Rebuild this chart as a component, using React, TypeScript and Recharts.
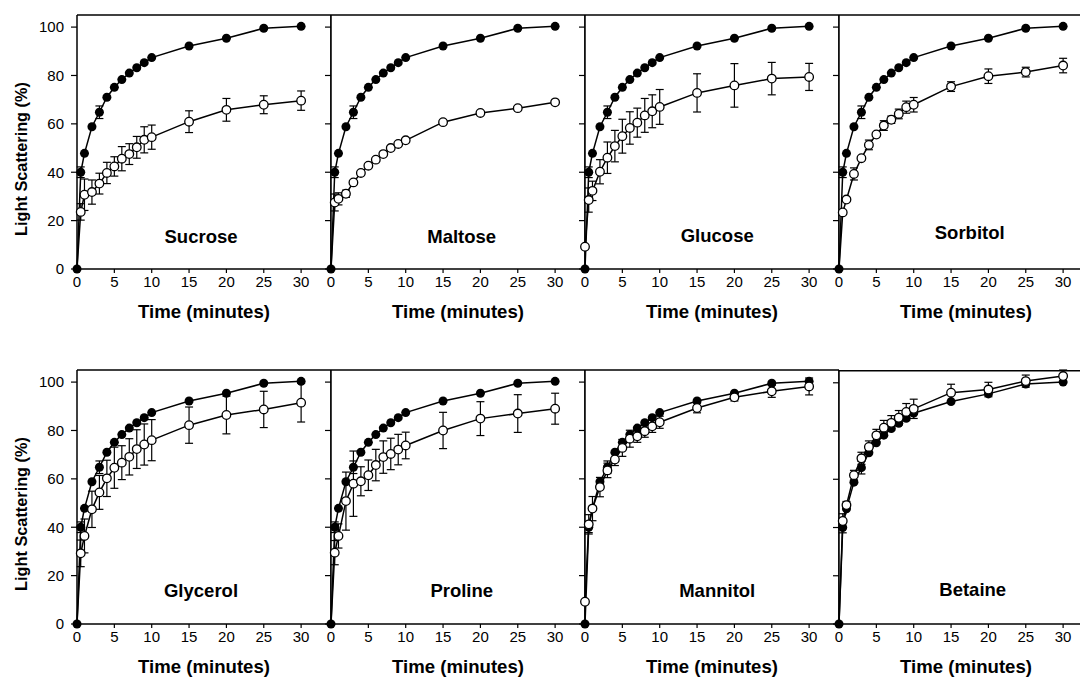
import React from 'react';
import {
  ComposedChart,
  Line,
  XAxis,
  YAxis,
  ErrorBar,
  ReferenceLine,
  ReferenceDot,
} from 'recharts';

// sampling times (minutes)
const times = [0, 0.5, 1, 2, 3, 4, 5, 6, 7, 8, 9, 10, 15, 20, 25, 30];

// control curve (filled circles), same in every panel
const control = [0, 40, 47.8, 58.8, 64.8, 71, 75.1, 78.3, 81, 83.2, 85.3, 87.4, 92.2, 95.4, 99.5, 100.3];
const controlErr = [0, 2.2, 0, 0, 2.6, 0, 0, 0, 0, 0, 0, 0, 0, 0, 0, 0];

// solute curves (open circles)
const sucrose = [0, 23.6, 30.7, 31.8, 35.3, 39.7, 42.4, 45.6, 47.5, 50.3, 53.4, 54.5, 60.9, 65.8, 67.9, 69.6];
const sucroseErr = [0, 3.4, 6.5, 5, 4.3, 4.4, 4, 5, 4.3, 4.5, 5.4, 5, 4.5, 4.7, 3.7, 4];
const maltose = [0, 27.5, 29, 31.1, 35.8, 39.7, 42.7, 45.2, 47.5, 50, 51.7, 53.2, 60.7, 64.5, 66.5, 68.9];
const maltoseErr = [0, 3.5, 2.5, 1.5, 0, 0, 0, 0, 0, 0, 0, 0, 0, 0, 0, 0];
const glucose = [9.2, 28.5, 32.3, 40.2, 46, 50.8, 54.9, 58.3, 60.5, 63.5, 65.2, 67, 72.8, 75.9, 78.7, 79.4];
const glucoseErr = [0, 5, 4, 5, 6.5, 6.5, 7, 6.7, 6, 7, 6.8, 7.2, 7.9, 9, 6.7, 5.6];
const sorbitol = [0, 23.4, 28.7, 39.3, 45.8, 51.3, 55.6, 59.3, 61.7, 64.1, 66.9, 67.9, 75.4, 79.7, 81.4, 84.1];
const sorbitolErr = [0, 0, 0, 2.5, 0, 2, 0, 2, 1.5, 2, 2.5, 3, 2, 3, 2, 3];
const glycerol = [0, 29.2, 36.4, 47.4, 54.4, 60.2, 64.6, 66.7, 69.1, 72.3, 74.2, 76, 82.2, 86.4, 88.7, 91.5];
const glycerolErr = [0, 5.5, 7, 7.5, 7, 7.5, 8.5, 7, 7.5, 8, 8.5, 8.5, 7.5, 7.8, 7.5, 8];
const proline = [0, 29.5, 36.4, 50.8, 58, 59, 61.5, 65.7, 69, 70.3, 72.1, 73.8, 80, 84.9, 87, 89];
const prolineErr = [0, 5, 5, 12, 13.5, 6, 6.3, 6.5, 6.7, 6.5, 6.3, 5.5, 7.5, 7, 7.8, 6.4];
const mannitol = [9.2, 41.2, 47.7, 56.6, 63.5, 68, 72.8, 76.6, 77.6, 79.7, 81.7, 83.4, 89.3, 93.7, 96.2, 98.2];
const mannitolErr = [0, 4, 5, 4, 3, 2.5, 3.5, 3.5, 2.5, 2.5, 2.5, 2.5, 2, 1.5, 2.5, 3.5];
const betaine = [0, 42.7, 49.3, 61.7, 68.7, 73.4, 78.2, 81.4, 83.4, 85.5, 87.9, 89.2, 95.9, 97.2, 100.7, 102.8];
const betaineErr = [0, 3, 1.5, 2, 2.5, 2.5, 2.5, 3, 3, 3, 3.5, 4, 3.5, 3, 2.5, 2.5];

const xTicks = [0, 5, 10, 15, 20, 25, 30];
const yTicks = [0, 20, 40, 60, 80, 100];

const panels = [
  { name: 'Sucrose', values: sucrose, err: sucroseErr, nameX: 16.6, nameY: 13.3 },
  { name: 'Maltose', values: maltose, err: maltoseErr, nameX: 17.5, nameY: 13.3 },
  { name: 'Glucose', values: glucose, err: glucoseErr, nameX: 17.7, nameY: 13.8 },
  { name: 'Sorbitol', values: sorbitol, err: sorbitolErr, nameX: 17.5, nameY: 15 },
  { name: 'Glycerol', values: glycerol, err: glycerolErr, nameX: 16.6, nameY: 14 },
  { name: 'Proline', values: proline, err: prolineErr, nameX: 17.5, nameY: 14 },
  { name: 'Mannitol', values: mannitol, err: mannitolErr, nameX: 17.7, nameY: 14 },
  { name: 'Betaine', values: betaine, err: betaineErr, nameX: 17.9, nameY: 14.5 },
];

const FONT = '"Liberation Sans", Arial, Helvetica, sans-serif';
const PLOT = 254;
const AXIS_W = 70;
const TOP_M = 10;
const rowTops = [15, 369.5];
const colLefts = [77, 331, 585, 839];

const filledDot = (p: any) => (
  <circle key={`f${p.index}`} cx={p.cx} cy={p.cy} r={4.5} fill="#000" />
);

const openDot = (p: any) =>
  p.payload.sol === 0 ? (
    <g key={`o${p.index}`} />
  ) : (
    <circle key={`o${p.index}`} cx={p.cx} cy={p.cy} r={4.3} fill="#fff" stroke="#000" strokeWidth={1.3} />
  );

function Panel({ idx }: { idx: number }) {
  const p = panels[idx];
  const col = idx % 4;
  const row = Math.floor(idx / 4);
  const first = col === 0;
  const data = times.map((t, i) => ({
    t,
    ctrl: control[i],
    ctrlErr: controlErr[i],
    sol: p.values[i],
    solErr: p.err[i],
  }));

  return (
    <div
      style={{
        position: 'absolute',
        left: colLefts[col] - AXIS_W,
        top: rowTops[row] - TOP_M,
      }}
    >
      <ComposedChart
        width={AXIS_W + PLOT}
        height={TOP_M + PLOT + 60}
        data={data}
        margin={{ top: TOP_M, right: 0, bottom: 0, left: 0 }}
      >
        <XAxis
          dataKey="t"
          type="number"
          domain={[0, 34]}
          ticks={xTicks}
          height={60}
          axisLine={{ stroke: '#000', strokeWidth: 1.5 }}
          tickLine={{ stroke: '#000', strokeWidth: 1.2 }}
          tickSize={4}
          tickMargin={3}
          tick={{ fill: '#000', fontSize: 15, fontFamily: FONT }}
          label={(lp: any) => (
            <text
              x={lp.viewBox.x + lp.viewBox.width / 2}
              y={lp.viewBox.y + 49}
              textAnchor="middle"
              fontFamily={FONT}
              fontWeight={700}
              fontSize={18.6}
              fill="#000"
            >
              Time (minutes)
            </text>
          )}
        />
        <YAxis
          type="number"
          domain={[0, 105]}
          ticks={yTicks}
          width={AXIS_W}
          axisLine={{ stroke: '#000', strokeWidth: 1.5 }}
          tickLine={{ stroke: '#000', strokeWidth: 1.2 }}
          tickSize={6}
          tickMargin={7}
          tick={{ fill: '#000', fontSize: 15, fontFamily: FONT }}
          tickFormatter={first ? (v: number) => String(v) : () => ''}
          label={
            first
              ? (lp: any) => {
                  const cx = lp.viewBox.x + 14;
                  const cy = lp.viewBox.y + 144;
                  return (
                    <text
                      x={cx}
                      y={cy}
                      transform={`rotate(-90 ${cx} ${cy})`}
                      textAnchor="middle"
                      dominantBaseline="central"
                      fontFamily={FONT}
                      fontWeight={700}
                      fontSize={16.3}
                      fill="#000"
                    >
                      Light Scattering (%)
                    </text>
                  );
                }
              : undefined
          }
        />
        <ReferenceLine y={105} stroke="#000" strokeWidth={1.5} />
        <ReferenceLine x={34} stroke="#000" strokeWidth={1.5} />
        <ReferenceDot
          x={p.nameX}
          y={p.nameY}
          r={0}
          fill="none"
          stroke="none"
          label={(lp: any) => (
            <text
              x={lp.viewBox.x + lp.viewBox.width / 2}
              y={lp.viewBox.y + lp.viewBox.height / 2}
              textAnchor="middle"
              dominantBaseline="central"
              fontFamily={FONT}
              fontWeight={700}
              fontSize={18.5}
              fill="#000"
            >
              {p.name}
            </text>
          )}
        />
        <Line
          dataKey="ctrl"
          type="linear"
          stroke="#000"
          strokeWidth={1.5}
          dot={filledDot}
          activeDot={false}
          isAnimationActive={false}
        >
          <ErrorBar dataKey="ctrlErr" width={4} stroke="#000" strokeWidth={1.2} direction="y" isAnimationActive={false} />
        </Line>
        <Line
          dataKey="sol"
          type="linear"
          stroke="#000"
          strokeWidth={1.5}
          dot={openDot}
          activeDot={false}
          isAnimationActive={false}
        >
          <ErrorBar dataKey="solErr" width={4} stroke="#000" strokeWidth={1.2} direction="y" isAnimationActive={false} />
        </Line>
      </ComposedChart>
    </div>
  );
}

export default function App() {
  return (
    <div
      style={{
        position: 'absolute',
        left: 0,
        top: 0,
        width: 1080,
        height: 681,
        overflow: 'hidden',
        background: '#fff',
      }}
    >
      {panels.map((_, i) => (
        <Panel key={i} idx={i} />
      ))}
    </div>
  );
}
